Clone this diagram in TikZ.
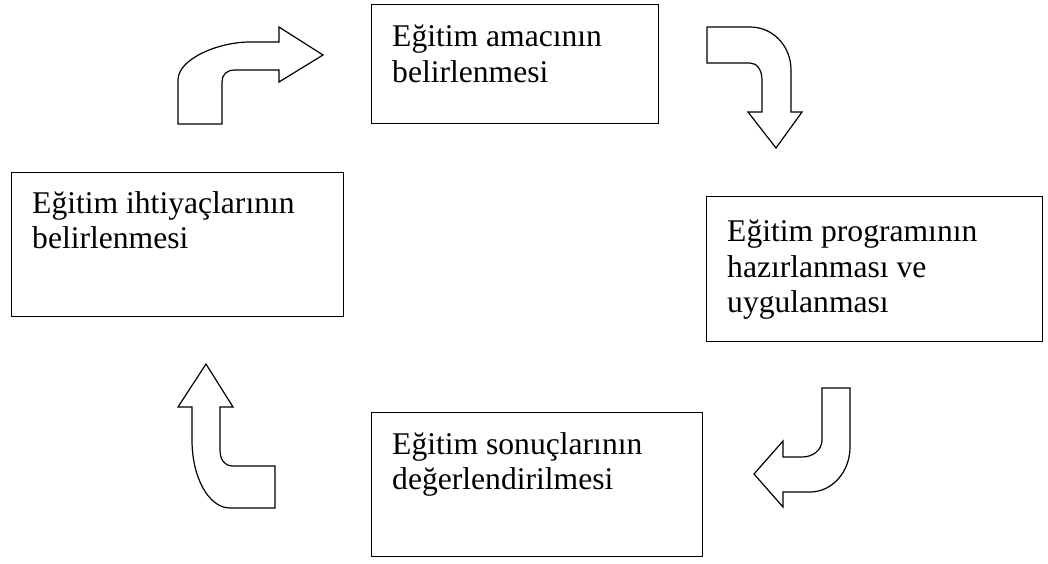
\documentclass[tikz,border=0pt]{standalone}
\usepackage{fontspec}
\setmainfont{Liberation Serif}

\tikzset{
stagebox/.style={draw, line width=1.4pt, inner sep=0pt, anchor=north west},
stagetext/.style={anchor=north west, inner sep=0pt, align=left,
  font=\fontsize{31.6pt}{35.5pt}\selectfont, xshift=21pt},
bentarrow/.style={draw, line width=1.2pt, line join=miter}
}

\begin{document}
\begin{tikzpicture}[x=1pt,y=-1pt]
\useasboundingbox (0,0) rectangle (1048,563);

\node [stagebox, minimum width=287pt, minimum height=119pt] (amac) at (371,4) {};
\node [stagebox, minimum width=332pt, minimum height=144pt] (ihtiyac) at (11,172) {};
\node [stagebox, minimum width=336pt, minimum height=145pt] (program) at (706,196) {};
\node [stagebox, minimum width=331pt, minimum height=144pt] (sonuc) at (371,412) {};

\node [stagetext, yshift=-21pt] (amac-t) at (amac.north west) {Eğitim amacının\\belirlenmesi};
\node [stagetext, yshift=-19pt] (ihtiyac-t) at (ihtiyac.north west) {Eğitim ihtiyaçlarının\\belirlenmesi};
\node [stagetext, yshift=-24pt] (program-t) at (program.north west) {Eğitim programının\\hazırlanması ve\\uygulanması};
\node [stagetext, yshift=-20pt] (sonuc-t) at (sonuc.north west) {Eğitim sonuçlarının\\değerlendirilmesi};

\draw [bentarrow] (178,124) -- (178,80) .. controls (178,59) and (218,42) .. (250,42)
  -- (279,42) -- (279,27) -- (323,55) -- (279,82) -- (279,70) -- (235,70)
  .. controls (226,70) and (222,75) .. (222,82) -- (222,124) -- cycle;

\draw [bentarrow] (707,27) -- (750,27) .. controls (773,27) and (791,46) .. (791,70)
  -- (791,112) -- (802,112) -- (776,148) -- (748,112) -- (762,112) -- (762,80)
  .. controls (762,70) and (757,63) .. (750,63) -- (707,63) -- cycle;

\draw [bentarrow] (822,388) -- (850,388) -- (850,447) .. controls (850,472) and (832,492) .. (810,492)
  -- (783,492) -- (783,507) -- (754,474) -- (783,441) -- (783,457) -- (802,457)
  .. controls (813,457) and (822,450) .. (822,440) -- cycle;

\draw [bentarrow] (192,407) -- (192,440) .. controls (192,478) and (209,508) .. (230,508)
  -- (275,508) -- (275,466) -- (232,466) .. controls (225,466) and (220,460) .. (220,450)
  -- (220,407) -- (233,407) -- (206,364) -- (178,407) -- cycle;
\end{tikzpicture}
\end{document}
